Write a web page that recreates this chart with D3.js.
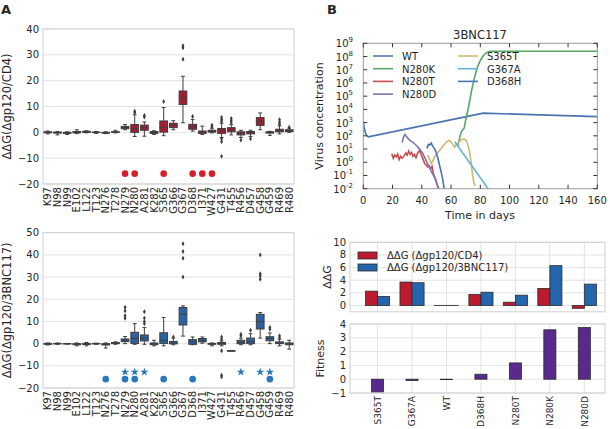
<!DOCTYPE html>
<html>
<head>
<meta charset="utf-8">
<script src="https://cdn.jsdelivr.net/npm/d3@7"></script>
<style>
  body { margin: 0; background: #fff; }
  svg { font-family: 'DejaVu Sans', sans-serif; fill: #262626; }
</style>
</head>
<body>
<svg id="chart" width="610" height="429"></svg>
<script>


// DATA
// --------------------------------------------------------------------------


var residues = ['K97', 'N98', 'N99', 'E102', 'L122', 'T123', 'N276', 'T278',
  'N279', 'N280', 'A281', 'K282', 'S365', 'G366', 'G367', 'D368', 'I371',
  'W427', 'G431', 'T455', 'R456', 'D457', 'G458', 'G459', 'R469', 'R480'];

// [low whisker, q1, median, q3, high whisker], one per residue.
var cd4Boxes = [
  [-0.6, -0.2, 0, 0.2, 0.5], [-1.0, -0.3, -0.1, 0.1, 0.3],
  [-0.8, -0.4, -0.2, 0, 0.2], [-0.5, -0.2, 0, 0.3, 1.0],
  [-0.2, 0, 0.2, 0.4, 0.6], [-0.4, -0.1, 0, 0.1, 0.3],
  [-0.5, -0.3, -0.2, 0, 0.2], [-0.2, 0, 0.1, 0.2, 0.8],
  [1.0, 1.4, 1.9, 2.3, 3.0], [-1.6, 0, 1.4, 3.0, 6.8],
  [-1.5, 0.8, 1.8, 2.8, 4.0], [-0.8, -0.4, -0.1, 0.3, 0.6],
  [-1.3, 0.1, 1.8, 4.4, 9.6], [1.0, 1.8, 2.8, 3.5, 4.5],
  [3.7, 10.8, 13.4, 16.0, 21.7], [0.5, 1.2, 2.2, 3.1, 5.0],
  [-0.8, -0.4, 0.1, 0.5, 2.4], [-0.2, 0.1, 0.4, 0.8, 1.6],
  [-2.0, -0.4, 0.8, 1.5, 3.5], [-1.0, 0.2, 1.0, 1.8, 3.0],
  [-2.0, -1.0, -0.4, 0.2, 0.8], [-1.6, -0.6, -0.1, 0.3, 0.8],
  [1.0, 2.7, 4.2, 5.7, 7.5], [-1.2, -0.3, 0, 0.2, 0.4],
  [-0.6, 0.2, 0.7, 1.2, 2.5], [0, 0.3, 0.6, 1.0, 1.6]
];

var cd4Outliers = [
  [], [], [], [], [], [], [], [],
  [], [7.6, 8.2], [5.9, 6.5], [],
  [11.9], [], [28.3, 32.7, 33.5], [6.1],
  [], [2.2, 2.8], [4.2, 5.0, 5.8, -2.6, -3.6, -9.3], [3.8, 4.6, 5.4],
  [-3.0], [-2.5], [], [], [3.1, 3.9, 4.9], [2.0]
];

var bncBoxes = [
  [-0.6, -0.3, -0.1, 0.1, 0.3], [-0.3, -0.1, 0, 0.1, 0.3],
  [-0.2, -0.1, 0, 0.05, 0.1], [-1.0, -0.5, -0.2, 0, 0.3],
  [-1.0, -0.4, -0.2, 0.1, 0.5], [-0.3, -0.1, 0, 0.1, 0.2],
  [-2.0, -0.6, -0.3, 0, 0.3], [-0.3, 0, 0.2, 0.5, 0.8],
  [0, 0.9, 1.5, 2.1, 3.2], [-0.3, 0.1, 2.4, 5.1, 9.0],
  [-0.3, 1.2, 2.5, 3.9, 7.3], [-1.0, -0.5, -0.1, 0.3, 1.5],
  [-1.0, 0.1, 1.5, 4.9, 11.8], [-0.5, -0.1, 0.3, 1.0, 2.5],
  [3.4, 8.4, 13.3, 16.3, 17.0], [-0.5, -0.3, 0.8, 1.8, 3.0],
  [0.2, 0.8, 1.5, 2.3, 3.0], [-1.0, -0.3, -0.1, 0.1, 0.3],
  [-1.0, -0.3, 0.1, 0.5, 1.2], [-3.2, -3.2, -3.2, -3.2, -3.2],
  [-0.5, 0, 0.6, 1.5, 2.5], [-0.5, 0, 1.0, 2.5, 4.5],
  [2.5, 6.6, 9.9, 13.2, 14.0], [0, 1.3, 2.3, 3.1, 4.8],
  [-1.0, 0, 0.3, 0.8, 2.0], [-2.5, -0.5, -0.1, 0.3, 1.5]
];

var bncOutliers = [
  [], [], [], [], [], [], [], [],
  [11.4, 12.6, 14.8, 16.4], [], [9.0, 10.0, 11.5, 14.4], [],
  [], [3.0], [30.0, 38.5, 41.5, 45.0], [],
  [], [], [2.0, 3.0, -3.2, -14.2, -15.0], [],
  [3.5, 4.2], [6.0], [29.0, 30.5, 31.5, 40.0], [6.5, 7.3], [2.7, 3.5], []
];

var cd4Dots = ['N279', 'N280', 'S365', 'D368', 'I371', 'W427'];
var bncDots = ['N276', 'N279', 'N280', 'S365', 'D368', 'G459'];
var bncStars = ['N279', 'N280', 'A281', 'R456', 'G458', 'G459'];

var cd4Ticks = [-20, -10, 0, 10, 20, 30, 40];
var bncTicks = [-20, -10, 0, 10, 20, 30, 40, 50];

// Virus concentration: [day, log10 concentration].
var wtSeries = [[0, 3.1], [0.7, 2.55], [1.5, 2.2], [2.5, 2.0], [3.5, 1.92],
  [82, 3.72], [160, 3.45]];
var n280kSeries = [[64.5, 1.2], [66, 1.9], [67, 2.3], [68, 2.45], [69, 2.6],
  [70, 3.2], [72, 4.2], [74, 5.4], [76, 6.4], [78, 7.2], [80, 7.7],
  [82, 8.05], [84, 8.28], [86, 8.38], [88, 8.4], [160, 8.4]];
var n280tSeries = [[19.5, 0.65], [20.5, 0.3], [21.5, 0.55], [22.5, 0.4],
  [23.5, 0.62], [24.5, 0.2], [25.5, 0.45], [26.5, 0.3], [28, 0.5],
  [29, 0.7], [30, 0.55], [31, 0.85], [32, 0.6], [33, 0.75], [34, 0.45],
  [35, 0.6], [36, 0.35], [37, 0.65], [38.5, 0.9], [39.5, 0.6], [41, 0.2],
  [42, -0.1], [43, -0.2], [44, -0.35], [45, -0.25], [46, -0.5], [47, -0.3],
  [48, -0.9], [49.5, -1.3], [50.5, -1.7], [52, -2.1]];
var n280dSeries = [[26.5, 1.5], [27.5, 1.9], [28.5, 2.1], [29.5, 1.95],
  [31, 1.75], [32.5, 1.6], [34, 1.5], [35, 1.4], [36.5, 1.25], [38, 1.05],
  [39.5, 0.85], [40.5, 0.7], [42, 0.35], [43.5, 0.0], [45, -0.35],
  [46.5, -0.7], [48, -1.0], [49.5, -1.35], [51.5, -2.1]];
var s365tSeries = [[44, 0.55], [45.5, 0.2], [46.5, -0.1], [47.5, 0.1],
  [49, 0.45], [51, 0.75], [53, 1.0], [55, 1.3], [57, 1.55], [58.5, 1.65],
  [60, 1.55], [61.5, 1.3], [62.5, 1.15], [63.5, 1.3], [65, 1.5], [67, 1.7],
  [68.5, 1.75], [70, 1.7], [71, 1.5], [72.5, 0.9], [73.5, 0.2],
  [74.5, -0.8], [75.5, -1.5], [76.5, -1.8]];
var g367aSeries = [[62.5, 1.55], [86, -2.1]];
var d368hSeries = [[43.5, 1.05], [44.5, 1.35], [45.5, 1.3], [46.5, 1.45],
  [47.5, 1.2], [48.5, 1.05], [49.5, 0.85], [51, 0.3], [52.5, -0.4],
  [54, -1.1], [55.5, -2.1]];

var seriesNames = ['WT', 'N280K', 'N280T', 'N280D', 'S365T', 'G367A', 'D368H'];
var seriesData = [wtSeries, n280kSeries, n280tSeries, n280dSeries,
  s365tSeries, g367aSeries, d368hSeries];
var dayTicks = [0, 20, 40, 60, 80, 100, 120, 140, 160];
var decadeTicks = [-2, -1, 0, 1, 2, 3, 4, 5, 6, 7, 8, 9];

var mutants = ['S365T', 'G367A', 'WT', 'D368H', 'N280T', 'N280K', 'N280D'];
var ddgCd4 = [2.27, 3.71, 0.02, 1.75, 0.52, 2.7, -0.45];
var ddgBnc = [1.43, 3.6, 0.02, 2.1, 1.63, 6.3, 3.38];
var fitness = [-0.92, -0.1, -0.03, 0.36, 1.18, 3.58, 3.74];
var ddgTicks = [0, 2, 4, 6, 8, 10];
var fitnessTicks = [-1, 0, 1, 2, 3, 4];


// STYLE
// --------------------------------------------------------------------------


var GRID = '#e3e3e3';
var FRAME = '#cfcfcf';
var EDGE = '#3d3d3d';
var RED_BOX = '#a51d30', BLUE_BOX = '#2a64a6';
var RED_DOT = '#d41f2b', BLUE_DOT = '#2878bd';
var RED_BAR = '#bb1a2f', BLUE_BAR = '#2466ad', PURPLE_BAR = '#582a8e';
var LINE_COLORS = ['#4c72b0', '#55a868', '#c44e52', '#8172b2', '#ccb974',
  '#64b5cd', '#4c72b0'];

var svg = d3.select('#chart');


// PANEL A: BOX PLOTS
// --------------------------------------------------------------------------


/**
 * Draw one box plot panel.
 */
function boxPanel(opt) {

  var x = d3.scaleBand().domain(residues).range([43, 294]);
  var y = d3.scaleLinear().domain(opt.domain).range([opt.bottom, opt.top]);
  var g = svg.append('g');
  var bw = x.bandwidth() * 0.8;

  // Grid and frame.
  g.selectAll('line.grid').data(opt.ticks).enter().append('line')
    .attr('x1', 43).attr('x2', 294)
    .attr('y1', function(d) { return y(d); })
    .attr('y2', function(d) { return y(d); })
    .attr('stroke', GRID).attr('stroke-width', 1);
  g.append('rect').attr('x', 43).attr('y', opt.top)
    .attr('width', 251).attr('height', opt.bottom - opt.top)
    .attr('fill', 'none').attr('stroke', FRAME);

  // Tick labels.
  g.selectAll('text.yt').data(opt.ticks).enter().append('text')
    .attr('x', 39).attr('y', function(d) { return y(d) + 3.5; })
    .attr('text-anchor', 'end').style('font-size', '10px')
    .text(function(d) { return d < 0 ? '\u2212' + (-d) : d; });

  g.selectAll('text.xt').data(residues).enter().append('text')
    .attr('transform', function(d) {
      return 'translate(' + (x(d) + x.bandwidth() / 2 + 3.5) + ',' +
        (opt.bottom + 3) + ') rotate(-90)';
    })
    .attr('text-anchor', 'end').style('font-size', '10px')
    .text(function(d) { return d; });

  // Axis label.
  g.append('text')
    .attr('transform', 'translate(11,' + (opt.top + opt.bottom) / 2 +
      ') rotate(-90)')
    .attr('text-anchor', 'middle').style('font-size', '11.5px')
    .text(opt.label);

  // Boxes.
  var boxes = g.selectAll('g.box').data(opt.boxes).enter().append('g')
    .attr('transform', function(d, i) {
      return 'translate(' + (x(residues[i]) + x.bandwidth() / 2) + ',0)';
    });

  boxes.append('line')
    .attr('y1', function(d) { return y(d[0]); })
    .attr('y2', function(d) { return y(d[4]); })
    .attr('stroke', EDGE);
  boxes.selectAll('line.cap').data(function(d) { return [d[0], d[4]]; })
    .enter().append('line')
    .attr('x1', -bw / 4).attr('x2', bw / 4)
    .attr('y1', function(v) { return y(v); })
    .attr('y2', function(v) { return y(v); })
    .attr('stroke', EDGE);
  boxes.append('rect')
    .attr('x', -bw / 2).attr('width', bw)
    .attr('y', function(d) { return y(d[3]); })
    .attr('height', function(d) { return Math.max(y(d[1]) - y(d[3]), 0.5); })
    .attr('fill', opt.fill).attr('stroke', EDGE);
  boxes.append('line')
    .attr('x1', -bw / 2).attr('x2', bw / 2)
    .attr('y1', function(d) { return y(d[2]); })
    .attr('y2', function(d) { return y(d[2]); })
    .attr('stroke', EDGE);

  // Outliers.
  var diamond = d3.symbol().type(d3.symbolDiamond).size(7);
  boxes.selectAll('path').data(function(d, i) { return opt.outliers[i]; })
    .enter().append('path')
    .attr('d', diamond)
    .attr('transform', function(v) { return 'translate(0,' + y(v) + ')'; })
    .attr('fill', EDGE);

  // Markers below the boxes.
  g.selectAll('circle').data(opt.dots).enter().append('circle')
    .attr('cx', function(d) { return x(d) + x.bandwidth() / 2; })
    .attr('cy', y(-16)).attr('r', 3.3).attr('fill', opt.dot);

  var star = d3.symbol().type(d3.symbolStar).size(22);
  g.selectAll('path.star').data(opt.stars).enter().append('path')
    .attr('d', star)
    .attr('transform', function(d) {
      return 'translate(' + (x(d) + x.bandwidth() / 2) + ',' + y(-12.8) + ')';
    })
    .attr('fill', opt.dot);

}

boxPanel({
  domain: [-20, 40], top: 29, bottom: 184, ticks: cd4Ticks,
  boxes: cd4Boxes, outliers: cd4Outliers, dots: cd4Dots, stars: [],
  fill: RED_BOX, dot: RED_DOT, label: '\u0394\u0394G(\u0394gp120/CD4)'
});

boxPanel({
  domain: [-20, 50], top: 232.7, bottom: 388, ticks: bncTicks,
  boxes: bncBoxes, outliers: bncOutliers, dots: bncDots, stars: bncStars,
  fill: BLUE_BOX, dot: BLUE_DOT, label: '\u0394\u0394G(\u0394gp120/3BNC117)'
});


// PANEL B: VIRUS CONCENTRATION
// --------------------------------------------------------------------------


var lx = d3.scaleLinear().domain([0, 160]).range([363.3, 597.3]);
var ly = d3.scaleLog().domain([1e-2, 1e9]).range([188.7, 43.3]);
var lg = svg.append('g');

lg.append('clipPath').attr('id', 'clip').append('rect')
  .attr('x', 363.3).attr('y', 43.3).attr('width', 234).attr('height', 145.4);

var line = d3.line()
  .x(function(d) { return lx(d[0]); })
  .y(function(d) { return ly(Math.pow(10, d[1])); });

lg.append('g').attr('clip-path', 'url(#clip)')
  .selectAll('path').data(seriesData).enter().append('path')
  .attr('d', line).attr('fill', 'none')
  .attr('stroke', function(d, i) { return LINE_COLORS[i]; })
  .attr('stroke-width', 1.6);

lg.append('rect').attr('x', 363.3).attr('y', 43.3)
  .attr('width', 234).attr('height', 145.4)
  .attr('fill', 'none').attr('stroke', '#9a9a9a');

// Ticks on all four sides, pointing in.
lg.selectAll('line.xt').data(dayTicks.concat(dayTicks)).enter().append('line')
  .attr('x1', function(d) { return lx(d); })
  .attr('x2', function(d) { return lx(d); })
  .attr('y1', function(d, i) { return i < dayTicks.length ? 188.7 : 43.3; })
  .attr('y2', function(d, i) { return i < dayTicks.length ? 184.7 : 47.3; })
  .attr('stroke', '#333');
lg.selectAll('line.yt').data(decadeTicks.concat(decadeTicks)).enter()
  .append('line')
  .attr('y1', function(d) { return ly(Math.pow(10, d)); })
  .attr('y2', function(d) { return ly(Math.pow(10, d)); })
  .attr('x1', function(d, i) { return i < decadeTicks.length ? 363.3 : 597.3; })
  .attr('x2', function(d, i) { return i < decadeTicks.length ? 367.3 : 593.3; })
  .attr('stroke', '#333');

lg.selectAll('text.xl').data(dayTicks).enter().append('text')
  .attr('x', function(d) { return lx(d); }).attr('y', 204)
  .attr('text-anchor', 'middle').style('font-size', '10px')
  .text(function(d) { return d; });

var yl = lg.selectAll('text.yl').data(decadeTicks).enter().append('text')
  .attr('x', 353).attr('y', function(d) { return ly(Math.pow(10, d)) + 4; })
  .attr('text-anchor', 'end').style('font-size', '10px');
yl.append('tspan').text('10');
yl.append('tspan').attr('dy', -5).style('font-size', '7px')
  .text(function(d) { return d; });

lg.append('text').attr('x', 480).attr('y', 39).attr('text-anchor', 'middle')
  .style('font-size', '11.5px').text('3BNC117');
lg.append('text').attr('x', 480).attr('y', 219).attr('text-anchor', 'middle')
  .style('font-size', '11px').text('Time in days');
lg.append('text')
  .attr('transform', 'translate(323,116) rotate(-90)')
  .attr('text-anchor', 'middle').style('font-size', '11px')
  .text('Virus concentration');

// Legend, two columns.
var leg = lg.selectAll('g.leg').data(seriesNames).enter().append('g')
  .attr('transform', function(d, i) {
    var col = i < 4 ? 0 : 1, row = i < 4 ? i : i - 4;
    return 'translate(' + (373 + col * 85) + ',' + (56 + row * 12.7) + ')';
  });
leg.append('line').attr('x1', 0).attr('x2', 20)
  .attr('stroke', function(d, i) { return LINE_COLORS[i]; })
  .attr('stroke-width', 1.6);
leg.append('text').attr('x', 29).attr('y', 3.8).style('font-size', '10px')
  .text(function(d) { return d; });


// PANEL B: DDG AND FITNESS BARS
// --------------------------------------------------------------------------


var bx = d3.scaleLinear().domain([-0.8, 6.6]).range([350, 605]);
var BAR = 0.35;

/**
 * Draw the shared frame, grids and y ticks of a bar subplot.
 */
function barFrame(y, ticks, top, bottom, label, labelX) {
  var g = svg.append('g');
  g.selectAll('line.h').data(ticks).enter().append('line')
    .attr('x1', 350).attr('x2', 605)
    .attr('y1', function(d) { return y(d); })
    .attr('y2', function(d) { return y(d); })
    .attr('stroke', GRID);
  g.selectAll('line.v').data(mutants).enter().append('line')
    .attr('x1', function(d, i) { return bx(i); })
    .attr('x2', function(d, i) { return bx(i); })
    .attr('y1', top).attr('y2', bottom).attr('stroke', GRID);
  g.append('rect').attr('x', 350).attr('y', top)
    .attr('width', 255).attr('height', bottom - top)
    .attr('fill', 'none').attr('stroke', FRAME);
  g.selectAll('text.t').data(ticks).enter().append('text')
    .attr('x', 346).attr('y', function(d) { return y(d) + 3.5; })
    .attr('text-anchor', 'end').style('font-size', '10px')
    .text(function(d) { return d < 0 ? '\u2212' + (-d) : d; });
  g.append('text')
    .attr('transform', 'translate(' + labelX + ',' + (top + bottom) / 2 +
      ') rotate(-90)')
    .attr('text-anchor', 'middle').style('font-size', '11px').text(label);
  return g;
}

var dy = d3.scaleLinear().domain([-1, 10]).range([311.8, 242.3]);
var dg = barFrame(dy, ddgTicks, 242.3, 311.8, '\u0394\u0394G', 331);

[[ddgCd4, -BAR, RED_BAR], [ddgBnc, 0, BLUE_BAR]].forEach(function(s) {
  dg.selectAll(null).data(s[0]).enter().append('rect')
    .attr('x', function(d, i) { return bx(i + s[1]); })
    .attr('width', bx(BAR) - bx(0))
    .attr('y', function(d) { return dy(Math.max(d, 0)); })
    .attr('height', function(d) { return Math.abs(dy(d) - dy(0)); })
    .attr('fill', s[2]).attr('stroke', '#2b2b2b').attr('stroke-width', 0.8);
});

var dLeg = dg.selectAll('g.leg').data([
  ['\u0394\u0394G (\u0394gp120/CD4)', RED_BAR],
  ['\u0394\u0394G (\u0394gp120/3BNC117)', BLUE_BAR]
]).enter().append('g')
  .attr('transform', function(d, i) {
    return 'translate(358,' + (252 + i * 12) + ')';
  });
dLeg.append('rect').attr('width', 19).attr('height', 7)
  .attr('fill', function(d) { return d[1]; })
  .attr('stroke', '#2b2b2b').attr('stroke-width', 0.8);
dLeg.append('text').attr('x', 29).attr('y', 7).style('font-size', '10px')
  .text(function(d) { return d[0]; });

var fy = d3.scaleLinear().domain([-1, 4]).range([393, 324]);
var fg = barFrame(fy, fitnessTicks, 324, 393, 'Fitness', 324);

fg.selectAll(null).data(fitness).enter().append('rect')
  .attr('x', function(d, i) { return bx(i - BAR / 2); })
  .attr('width', bx(BAR) - bx(0))
  .attr('y', function(d) { return fy(Math.max(d, 0)); })
  .attr('height', function(d) { return Math.abs(fy(d) - fy(0)); })
  .attr('fill', PURPLE_BAR).attr('stroke', '#2b2b2b').attr('stroke-width', 0.8);

fg.selectAll('text.m').data(mutants).enter().append('text')
  .attr('transform', function(d, i) {
    return 'translate(' + (bx(i) + 3.2) + ',396) rotate(-90)';
  })
  .attr('text-anchor', 'end').style('font-size', '9px')
  .text(function(d) { return d; });


// PANEL LETTERS
// --------------------------------------------------------------------------


svg.append('text').attr('x', 1).attr('y', 14).style('font-size', '13px')
  .style('font-weight', 'bold').text('A');
svg.append('text').attr('x', 327).attr('y', 14).style('font-size', '13px')
  .style('font-weight', 'bold').text('B');

</script>
</body>
</html>
